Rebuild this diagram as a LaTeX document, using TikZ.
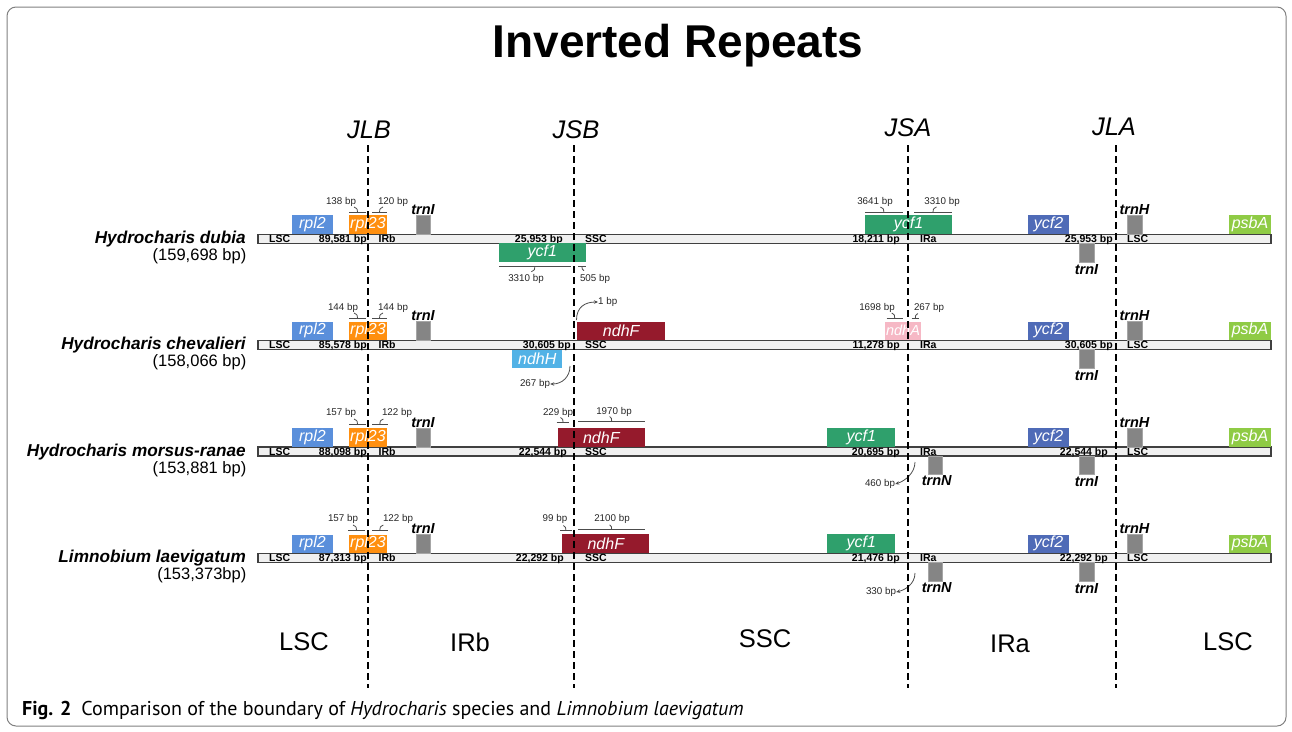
\documentclass[tikz,border=0pt]{standalone}
\usepackage{fontspec}
\setmainfont{Liberation Sans}
\newfontfamily\capfont{PT Sans}
\usetikzlibrary{positioning, arrows.meta}

\definecolor{rplblue}{HTML}{5A8FDB}
\definecolor{rplorange}{HTML}{FF8F0F}
\definecolor{trngray}{HTML}{858585}
\definecolor{ycfgreen}{HTML}{2FA06C}
\definecolor{ycfblue}{HTML}{4F6BB7}
\definecolor{psbgreen}{HTML}{8FCB45}
\definecolor{ndhred}{HTML}{951A2C}
\definecolor{ndhsky}{HTML}{52B2E6}
\definecolor{ndhpink}{HTML}{F6B8C5}
\definecolor{boxgray}{HTML}{808080}

\tikzset{
  bar/.style={draw=black!75, fill=black!6, line width=1.3pt, minimum width=1013pt, minimum height=9pt, inner sep=0pt},
  gene/.style={inner sep=0pt, minimum height=18.5pt, text=white, font=\fontsize{16}{16}\selectfont\itshape},
  trn/.style={inner sep=0pt, minimum width=14.5pt, minimum height=18.5pt, fill=trngray, draw=black!35},
  trnlabel/.style={inner sep=0pt, font=\fontsize{14.5}{14.5}\selectfont\bfseries\itshape},
  bartext/.style={inner sep=0pt, font=\fontsize{10.5}{10.5}\selectfont\bfseries},
  bplabel/.style={inner sep=0pt, text=black!85, font=\fontsize{9.8}{9.8}\selectfont},
  bpline/.style={line width=0.8pt, black!70},
  bparrow/.style={bpline, -{Stealth[length=4pt, width=3.5pt]}},
  junction/.style={line width=2pt, dash pattern=on 7pt off 4pt},
  jlabel/.style={inner sep=0pt, font=\fontsize{25.5}{25.5}\selectfont\itshape},
  region/.style={inner sep=0pt, font=\fontsize{25.5}{25.5}\selectfont},
  species/.style={inner sep=0pt, anchor=east, font=\fontsize{17.2}{17.2}\selectfont\bfseries\itshape},
  genome/.style={inner sep=0pt, anchor=east, font=\fontsize{16.5}{16.5}\selectfont},
}

% bracket with a little hook: from x, to x, y, hook dx, hook dy
\newcommand{\bpbar}[5]{%
  \draw[bpline] (#1,#3) -- (#2,#3);
  \draw[bpline] ({(#1+#2)/2},#3) .. controls ({(#1+#2)/2},{#3+0.6*(#5)}) .. ({(#1+#2)/2+(#4)},{#3+(#5)});
}

\begin{document}
\begin{tikzpicture}[x=1pt, y=-1pt]
\useasboundingbox (0,0) rectangle (1292,731);
\draw[boxgray, line width=1pt, rounded corners=9pt] (7,7) rectangle (1286,726);
\node[anchor=base, inner sep=0pt, font=\fontsize{46}{46}\selectfont\bfseries] (title) at (678,57) {Inverted Repeats};

% junction labels
\node[jlabel] (JLB) at (369,130) {JLB};
\node[jlabel] (JSB) at (576,130) {JSB};
\node[jlabel] (JSA) at (908,128) {JSA};
\node[jlabel] (JLA) at (1114,127) {JLA};

% rows: genome bar, shared genes, boundary lengths
\foreach \r/\y/\name/\len/\lb/\sb/\sx/\ab/\rb/\rx in {
    1/238.7/{Hydrocharis dubia}/{(159,698 bp)}/{89,581 bp}/{25,953 bp}/563/{18,211 bp}/{25,953 bp}/1113,
    2/344.8/{Hydrocharis chevalieri}/{(158,066 bp)}/{85,578 bp}/{30,605 bp}/571/{11,278 bp}/{30,605 bp}/1113,
    3/451.5/{Hydrocharis morsus-ranae}/{(153,881 bp)}/{88,098 bp}/{22,544 bp}/567/{20,695 bp}/{22,544 bp}/1108,
    4/557.8/{Limnobium laevigatum}/{(153,373bp)}/{87,313 bp}/{22,292 bp}/564/{21,476 bp}/{22,292 bp}/1108}{
  \node[species] (sp-\r) at (246,\y+0.5) {\name};
  \node[genome] (len-\r) at (246.5,\y+17.5) {\len};
  \node[bar] (bar-\r) at (764.5,\y) {};
  \node[bartext, anchor=base west] (lsc-\r) at (269,\y+3.8) {LSC};
  \node[bartext, anchor=base east] (lscbp-\r) at (367,\y+3.8) {\lb};
  \node[bartext, anchor=base west] (irb-\r) at (378.5,\y+3.8) {IRb};
  \node[bartext, anchor=base east] (irbbp-\r) at (\sx,\y+3.8) {\sb};
  \node[bartext, anchor=base west] (ssc-\r) at (585,\y+3.8) {SSC};
  \node[bartext, anchor=base east] (sscbp-\r) at (900,\y+3.8) {\ab};
  \node[bartext, anchor=base west] (ira-\r) at (920,\y+3.8) {IRa};
  \node[bartext, anchor=base east] (irabp-\r) at (\rx,\y+3.8) {\rb};
  \node[bartext, anchor=base west] (lscb-\r) at (1127,\y+3.8) {LSC};
  \node[gene, fill=rplblue, minimum width=41pt] (rpl2-\r) at (312.5,\y-14) {rpl2};
  \node[gene, fill=rplorange, minimum width=38pt] (rpl23-\r) at (368,\y-14) {rpl23};
  \node[trn] (trnI-\r) at (423,\y-14) {};
  \node[trnlabel, above=0.5pt of trnI-\r] (trnIlab-\r) {trnI};
  \node[gene, fill=ycfblue, minimum width=41.5pt] (ycf2-\r) at (1048.5,\y-14) {ycf2};
  \node[trn] (trnIb-\r) at (1086.5,\y+13.8) {};
  \node[trnlabel, below=2pt of trnIb-\r] (trnIblab-\r) {trnI};
  \node[trn] (trnH-\r) at (1134.5,\y-14) {};
  \node[trnlabel, above=0.5pt of trnH-\r] (trnHlab-\r) {trnH};
  \node[gene, fill=psbgreen, minimum width=41.5pt] (psbA-\r) at (1250,\y-14) {psbA};
}

% Hydrocharis dubia
\node[bplabel] (d138) at (341,202) {138 bp};
\bpbar{349}{366}{212}{-3.5}{-5}
\node[bplabel] (d120) at (393,202) {120 bp};
\bpbar{372}{387}{212}{3.5}{-5}
\node[gene, fill=ycfgreen, minimum width=86.7pt] (ycf1L-1) at (542.3,252.5) {ycf1};
\bpbar{499}{570.7}{266.7}{-3.5}{5}
\node[bplabel] (d3310a) at (526,279) {3310 bp};
\bpbar{578}{586}{266.7}{2}{4}
\node[bplabel] (d505) at (595,279) {505 bp};
\node[gene, fill=ycfgreen, minimum width=87pt] (ycf1R-1) at (908.5,224.7) {ycf1};
\node[bplabel] (d3641) at (875,202) {3641 bp};
\bpbar{865}{902.7}{212}{-3.5}{-5}
\node[bplabel] (d3310b) at (942,202) {3310 bp};
\bpbar{914}{952}{212}{3.5}{-5}

% Hydrocharis chevalieri
\node[bplabel] (c144a) at (343,308) {144 bp};
\bpbar{349}{366}{318}{-3.5}{-5}
\node[bplabel] (c144b) at (393,308) {144 bp};
\bpbar{372}{387}{318}{3.5}{-5}
\node[gene, fill=ndhred, minimum width=87.7pt] (ndhF-2) at (621.2,330.8) {ndhF};
\node[bplabel, anchor=west] (c1) at (598,302) {1 bp};
\coordinate (c1from) at (576.5,320);
\draw[bparrow] (c1from) .. controls (576.5,307) and (585,302) .. (c1.west);
\node[gene, fill=ndhsky, minimum width=50pt] (ndhH-2) at (537.3,358.8) {ndhH};
\node[bplabel] (c267a) at (535,384) {267 bp};
\coordinate (c267from) at (570,366);
\draw[bparrow] (c267from) .. controls (570,377) and (562,384) .. (c267a.east);
\node[gene, fill=ndhpink, minimum width=36pt, font=\fontsize{14.5}{14.5}\selectfont\itshape] (ndhA-2) at (903,330.8) {ndhA};
\node[bplabel] (c1698) at (877,308) {1698 bp};
\bpbar{886.7}{902.7}{318}{-3}{-5}
\node[bplabel] (c267b) at (929,308) {267 bp};
\bpbar{911.7}{919}{318}{2.5}{-4.5}

% Hydrocharis morsus-ranae
\node[bplabel] (m157) at (341,412.7) {157 bp};
\bpbar{349}{366}{424}{-3.5}{-5}
\node[bplabel] (m122) at (397,412.7) {122 bp};
\bpbar{372}{387.7}{424}{3.5}{-5}
\node[gene, fill=ndhred, minimum width=87.3pt] (ndhF-3) at (601.3,437.5) {ndhF};
\node[bplabel] (m229) at (558,412.7) {229 bp};
\bpbar{556.7}{569.3}{422}{-2.5}{-4.5}
\node[bplabel] (m1970) at (614,412) {1970 bp};
\bpbar{578.3}{645}{421}{-2}{-4.5}
\node[gene, fill=ycfgreen, minimum width=68pt] (ycf1-3) at (861.3,437.5) {ycf1};
\node[trn] (trnN-3) at (935.2,465.3) {};
\node[trnlabel, below=1pt of trnN-3, xshift=1.5pt] (trnNlab-3) {trnN};
\node[bplabel] (m460) at (880,484) {460 bp};
\coordinate (m460from) at (915,462);
\draw[bparrow] (m460from) .. controls (915,473) and (905,481) .. (m460.east);

% Limnobium laevigatum
\node[bplabel] (l157) at (343,519.3) {157 bp};
\bpbar{348}{365}{530}{-3.5}{-5}
\node[bplabel] (l122) at (398,519.3) {122 bp};
\bpbar{372}{387.7}{530}{3.5}{-5}
\node[gene, fill=ndhred, minimum width=87pt] (ndhF-4) at (605.8,543.5) {ndhF};
\node[bplabel] (l99) at (555,519.3) {99 bp};
\bpbar{560}{571.7}{530}{-2.5}{-4.5}
\node[bplabel] (l2100) at (612,519) {2100 bp};
\bpbar{578.3}{645}{529.3}{-2}{-4.5}
\node[gene, fill=ycfgreen, minimum width=68pt] (ycf1-4) at (861.3,543.5) {ycf1};
\node[trn] (trnN-4) at (935.2,571.6) {};
\node[trnlabel, below=1pt of trnN-4, xshift=1.5pt] (trnNlab-4) {trnN};
\node[bplabel] (l330) at (881,592) {330 bp};
\coordinate (l330from) at (915,573);
\draw[bparrow] (l330from) .. controls (915,584) and (905,590) .. (l330.east);

% junction lines
\foreach \j/\x in {JLB/368, JSB/574, JSA/908, JLA/1116}{
  \coordinate (\j-top) at (\x,145);
  \coordinate (\j-end) at (\x,688);
  \draw[junction] (\j-top) -- (\j-end);
}

% regions
\node[region] (rLSC) at (304,642) {LSC};
\node[region] (rIRb) at (470,642) {IRb};
\node[region] (rSSC) at (765,639) {SSC};
\node[region] (rIRa) at (1010,644) {IRa};
\node[region] (rLSCb) at (1228,642) {LSC};

\node[anchor=west, inner sep=0pt, font=\capfont\fontsize{20}{20}\selectfont] (caption) at (22,710)
  {{\bfseries Fig. 2}\enspace Comparison of the boundary of \textit{Hydrocharis} species and \textit{Limnobium laevigatum}};
\end{tikzpicture}
\end{document}
